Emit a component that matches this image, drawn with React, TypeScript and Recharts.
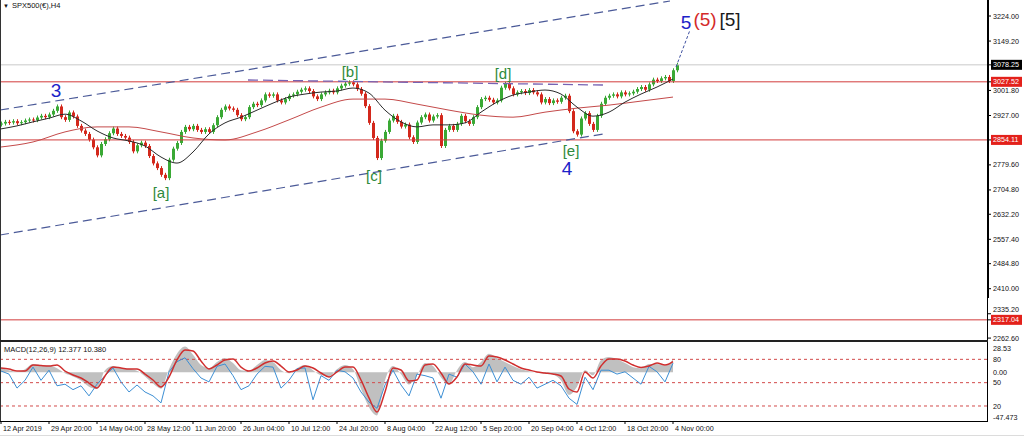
import React from 'react';
import {
  ComposedChart,
  Bar,
  Line,
  Area,
  XAxis,
  YAxis,
  ReferenceLine,
  ReferenceDot,
} from 'recharts';

// time axis: one label every 12 bars
const dateLabels = [
  '12 Apr 2019', '29 Apr 20:00', '14 May 04:00', '28 May 12:00', '11 Jun 20:00',
  '26 Jun 04:00', '10 Jul 12:00', '24 Jul 20:00', '8 Aug 04:00', '22 Aug 12:00',
  '5 Sep 20:00', '20 Sep 04:00', '4 Oct 12:00', '18 Oct 20:00', '4 Nov 00:00',
];
const barsPerLabel = 12;

// H4 closes (open of each bar = previous close)
const firstOpen = 2900;
const closes = [
  2903, 2908, 2906, 2910, 2904, 2907, 2912, 2915, 2913, 2921,
  2926, 2922, 2930, 2941, 2954, 2922, 2914, 2936, 2924, 2896,
  2882, 2872, 2855, 2832, 2808, 2842, 2856, 2874, 2888, 2872,
  2866, 2861, 2848, 2820, 2838, 2846, 2836, 2806, 2784, 2770,
  2750, 2740, 2795, 2828, 2845, 2878, 2893, 2886, 2896, 2884,
  2878, 2886, 2878, 2898, 2922, 2944, 2954, 2948, 2944, 2928,
  2916, 2922, 2952, 2962, 2958, 2972, 2990, 2986, 2990, 2972,
  2966, 2976, 2986, 2990, 2998, 3004, 3008, 3000, 2984, 2976,
  2990, 2996, 3001, 2996, 3008, 3016, 3022, 3026, 3020, 3006,
  2992, 2955, 2905, 2860, 2800, 2852, 2878, 2912, 2926, 2908,
  2894, 2900, 2862, 2848, 2906, 2922, 2930, 2912, 2924, 2928,
  2836, 2884, 2896, 2884, 2902, 2926, 2910, 2902, 2922, 2952,
  2976, 2980, 2974, 2966, 2972, 3010, 3022, 3008, 2990, 2996,
  3000, 2994, 3003, 2996, 2990, 2966, 2976, 2964, 2972, 2968,
  2980, 2986, 2940, 2880, 2870, 2918, 2934, 2902, 2884, 2926,
  2962, 2980, 2986, 2990, 2984, 2996, 2990, 2993, 2998, 3006,
  3012, 3004, 3020, 3034, 3030, 3038, 3042, 3030, 3062, 3078,
];

// black moving average, every 4 bars
const maFastStep = 4;
const maFast = [
  2887, 2896, 2908, 2919, 2931, 2911, 2881, 2860, 2851, 2836,
  2803, 2785, 2818, 2872, 2905, 2922, 2943, 2964, 2982, 2991,
  2997, 3000, 3009, 2994, 2943, 2908, 2893, 2899, 2899, 2905,
  2937, 2967, 2988, 2997, 3003, 2991, 2952, 2925, 2937, 2967,
  2991, 3012, 3036,
];

// red moving average, every 8 bars
const maSlowStep = 8;
const maSlow = [
  2833, 2848, 2878, 2893, 2893, 2878, 2860, 2854, 2878, 2914,
  2952, 2976, 2976, 2961, 2943, 2928, 2922, 2937, 2949, 2958,
  2970, 2982,
];

// lower window, every 2 bars
const subStep = 2;
const macdMain = [
  4.5, 2, 0.5, 3, 8, 7, 6.5, 4, -1, -4,
  -8, -14, -16, 2, 6, 4, 3.5, 1.5, -4, -11,
  -16, 3, 18, 25, 17, 7, 4, 10, 14, 9,
  2, 1.5, 7, 12, 10, 2, -1, 4, 7, 2,
  -3, -4, 3, 7, 3, -16, -34, -42, -8, 6,
  -2, -12, -3, 9, 6, -5, -12, 2, 10, 5,
  10, 18, 14, 10, 6, 3, 1, -0.5, -1.5, -2.5,
  -8, -22, -14, 2, -3, 12, 15, 13, 9, 5,
  4, 8, 8, 6.5, 12.4,
];
const macdSignal = [
  4.2, 3.2, 1.2, 1.2, 7.1, 6.5, 6.1, 7.1, 1.2, -2.6,
  -5.6, -10.5, -15.3, -3.6, 5.1, 4.2, 3.2, 3.2, -1.7, -7.5,
  -14.3, -4.6, 12, 21.7, 20.7, 11, 3.2, 7.1, 12, 12.9,
  5.1, 1.2, 4.2, 9, 11, 6.1, 0.3, 2.2, 6.1, 4.2,
  -0.7, -4.6, 0.3, 5.1, 5.1, -7.5, -25, -38.7, -19.2, 4.2,
  2.2, -8.5, -7.5, 7.1, 8.1, -0.7, -11.4, -4.6, 8.1, 7.1,
  6.1, 15.9, 14.9, 12, 8.1, 4.2, 2.2, 0.3, -0.7, -1.7,
  -3.6, -16.3, -19.2, 0.3, -5.6, 6.1, 12.9, 12.9, 11, 7.1,
  4.7, 6.1, 9, 7.1, 10.4,
];
const oscValues = [
  65, 61, 43, 53, 70, 53, 66, 46, 48, 41,
  46, 33, 48, 59, 69, 51, 38, 47, 38, 33,
  24, 64, 77, 82, 68, 56, 51, 71, 74, 59,
  41, 46, 61, 71, 70, 43, 53, 68, 69, 28,
  59, 53, 66, 64, 56, 38, 25, 17, 47, 66,
  47, 33, 61, 59, 56, 30, 61, 57, 74, 64,
  48, 74, 51, 70, 53, 48, 57, 43, 48, 53,
  46, 30, 22, 57, 41, 66, 66, 61, 64, 56,
  48, 71, 64, 51, 75,
];

// price scale
const priceTicks = [
  3224, 3149.2, 3078.25, 3027.52, 3001.8, 2927, 2854.11, 2779.6, 2704.8,
  2632.2, 2557.4, 2484.8, 2410, 2335.2, 2317.04, 2262.6,
];
const currentPrice = 3078.25;
const redLevels = [3027.52, 2854.11, 2317.04];
const macdTicks = [28.53, 0, -47.473];
const macdTickLabels = ['28.53', '0.00', '-47.473'];
const oscLevels = [80, 50, 20];

// drawn objects, in bar index / price
const trendLines = [
  { from: [-0.25, 2943.4], to: [167.25, 3268.8], color: '#4b5a98', dash: '9 5', w: 1.2 },
  { from: [-0.25, 2570.3], to: [150.5, 2871.8], color: '#4b5a98', dash: '9 5', w: 1.2 },
  { from: [61.75, 3033.0], to: [150.5, 3018.0], color: '#7763b3', dash: '10 5', w: 1.3 },
  { from: [168.75, 3071.8], to: [172.25, 3182.2], color: '#3d4fa0', dash: '3 2', w: 1 },
];
const waveLabels = [
  { text: '3', i: 13.75, price: 3003, color: '#1c22c8', size: 19 },
  { text: '[a]', i: 40, price: 2696, color: '#2f8a3b', size: 15 },
  { text: '[b]', i: 87.25, price: 3056.8, color: '#2f8a3b', size: 15 },
  { text: '[c]', i: 93.25, price: 2746.4, color: '#2f8a3b', size: 15 },
  { text: '[d]', i: 125.5, price: 3050.9, color: '#2f8a3b', size: 15 },
  { text: '[e]', i: 142.5, price: 2821, color: '#2f8a3b', size: 15 },
  { text: '4', i: 141.5, price: 2770.3, color: '#1c22c8', size: 19 },
  { text: '5', i: 171.25, price: 3206, color: '#1c22c8', size: 19 },
  { text: '(5)', i: 176, price: 3215, color: '#d42a2a', size: 19 },
  { text: '[5]', i: 182.25, price: 3215, color: '#1a1a1a', size: 19 },
];

const rows = closes.map((c, i) => {
  const o = i === 0 ? firstOpen : closes[i - 1];
  return {
    i,
    open: o,
    close: c,
    body: [Math.min(o, c), Math.max(o, c)],
    maFast: i % maFastStep === 0 ? maFast[i / maFastStep] : null,
    maSlow: i % maSlowStep === 0 ? maSlow[i / maSlowStep] : null,
    macd: i % subStep === 0 ? macdMain[i / subStep] : null,
    signal: i % subStep === 0 ? macdSignal[i / subStep] : null,
    osc: i % subStep === 0 ? oscValues[i / subStep] : null,
  };
});

const xDomain = [-0.25, 246.75];
const priceDomain = [2253.9, 3271.76];
const dateTicks = dateLabels.map((_, k) => k * barsPerLabel);
const FONT = '"Liberation Sans", Arial, sans-serif';

function Candle(props: any) {
  const { x, y, width, height, payload } = props;
  if (x == null || y == null) return null;
  const up = payload.close >= payload.open;
  const color = up ? '#3aa935' : '#d3281c';
  const cx = Math.round(x + width / 2) + 0.5;
  const h = Math.max(height || 0, 1);
  return (
    <g>
      <line x1={cx} x2={cx} y1={y - 2} y2={y + h + 2} stroke={color} strokeWidth={1} />
      <rect x={cx - 1.5} y={y} width={3} height={h} fill={color} />
    </g>
  );
}

function PriceTick(props: any) {
  const { x, y, payload } = props;
  const v = payload.value;
  const red = redLevels.includes(v);
  const cur = v === currentPrice;
  // the 2335.20 label sits just above the 2317.04 box
  const dy = v === 2335.2 ? -4 : 0;
  return (
    <g>
      <line x1={x} x2={x + 3} y1={y} y2={y} stroke="#000" />
      {(red || cur) && (
        <rect x={x + 3} y={y - 5} width={31} height={10} fill={cur ? '#000' : '#e3211b'} />
      )}
      <text x={x + 5} y={y + 2.5 + dy} fontSize={7.2} fontFamily={FONT} fill={red || cur ? '#fff' : '#111'}>
        {v.toFixed(2)}
      </text>
    </g>
  );
}

function MacdTick(props: any) {
  const { x, y, payload, index } = props;
  const dy = index === 0 ? 5 : index === macdTicks.length - 1 ? -4 : 0;
  return (
    <g>
      <text x={x + 5} y={y + dy + 2.5} fontSize={7.2} fontFamily={FONT} fill="#111">
        {macdTickLabels[macdTicks.indexOf(payload.value)]}
      </text>
    </g>
  );
}

function DateTick(props: any) {
  const { x, y, payload } = props;
  return (
    <g>
      <line x1={x} x2={x} y1={y} y2={y + 3} stroke="#000" />
      <text x={x + 2} y={y + 10} fontSize={7.2} fontFamily={FONT} fill="#111">
        {dateLabels[payload.value / barsPerLabel]}
      </text>
    </g>
  );
}

const line = (style: React.CSSProperties) => (
  <div style={{ position: 'absolute', ...style }} />
);

export default function App() {
  return (
    <div
      style={{
        position: 'absolute',
        left: 0,
        top: 0,
        width: 1024,
        height: 438,
        background: '#fff',
        overflow: 'hidden',
        fontFamily: FONT,
      }}
    >
      <div style={{ position: 'absolute', left: 0, top: 0, zIndex: 2 }}>
        <ComposedChart width={1024} height={350} data={rows} margin={{ top: 0, right: 0, bottom: 9, left: 0 }}>
          <XAxis type="number" dataKey="i" domain={xDomain} hide allowDataOverflow />
          <YAxis
            orientation="right"
            width={36}
            domain={priceDomain}
            allowDataOverflow
            ticks={priceTicks}
            interval={0}
            tick={<PriceTick />}
            tickSize={0}
            tickMargin={0}
            axisLine={false}
            tickLine={false}
          />
          <ReferenceLine y={currentPrice} stroke="#c9c9c9" strokeWidth={1} />
          {redLevels.map((v) => (
            <ReferenceLine key={v} y={v} stroke="#d23c3c" strokeWidth={1} />
          ))}
          {trendLines.map((t, k) => (
            <ReferenceLine
              key={k}
              segment={[
                { x: t.from[0], y: t.from[1] },
                { x: t.to[0], y: t.to[1] },
              ]}
              stroke={t.color}
              strokeDasharray={t.dash}
              strokeWidth={t.w}
              ifOverflow="visible"
            />
          ))}
          <Line type="monotone" dataKey="maSlow" stroke="#c44a4a" strokeWidth={1} dot={false} connectNulls isAnimationActive={false} />
          <Bar dataKey="body" barSize={3} shape={<Candle />} isAnimationActive={false} />
          <Line type="monotone" dataKey="maFast" stroke="#2a2a2a" strokeWidth={1} dot={false} connectNulls isAnimationActive={false} />
          {waveLabels.map((w) => (
            <ReferenceDot
              key={w.text}
              x={w.i}
              y={w.price}
              r={0}
              stroke="none"
              fill="none"
              ifOverflow="visible"
              label={{ value: w.text, position: 'center', fill: w.color, fontSize: w.size, fontFamily: FONT }}
            />
          ))}
        </ComposedChart>
      </div>

      <div style={{ position: 'absolute', left: 0, top: 343, zIndex: 1 }}>
        <ComposedChart width={1024} height={95} data={rows} margin={{ top: 0, right: 0, bottom: 0, left: 0 }}>
          <XAxis
            type="number"
            dataKey="i"
            domain={xDomain}
            allowDataOverflow
            ticks={dateTicks}
            interval={0}
            height={17}
            tick={<DateTick />}
            tickSize={0}
            tickMargin={0}
            axisLine={false}
            tickLine={false}
          />
          <YAxis
            yAxisId="macd"
            orientation="right"
            width={36}
            domain={[-47.473, 28.53]}
            allowDataOverflow
            ticks={macdTicks}
            interval={0}
            tick={<MacdTick />}
            tickSize={0}
            tickMargin={0}
            axisLine={false}
            tickLine={false}
          />
          <YAxis yAxisId="osc" hide domain={[0.7, 101]} allowDataOverflow />
          <Area
            yAxisId="macd"
            type="monotone"
            dataKey="macd"
            baseValue={0}
            stroke="none"
            fill="#c0c0c0"
            fillOpacity={1}
            connectNulls
            isAnimationActive={false}
          />
          {oscLevels.map((v) => (
            <ReferenceLine
              key={v}
              yAxisId="osc"
              y={v}
              stroke="#d24a4a"
              strokeDasharray="3 3"
              label={{ value: String(v), position: 'right', offset: 5, fill: '#111', fontSize: 7.2, fontFamily: FONT }}
            />
          ))}
          <Line yAxisId="osc" type="linear" dataKey="osc" stroke="#3d8fd4" strokeWidth={1} dot={false} connectNulls isAnimationActive={false} />
          <Line yAxisId="macd" type="monotone" dataKey="signal" stroke="#d02e2e" strokeWidth={1.5} dot={false} connectNulls isAnimationActive={false} />
        </ComposedChart>
      </div>

      {/* window frames */}
      {line({ left: 0, top: 0, width: 1, height: 421, background: '#333', zIndex: 3 })}
      {line({ left: 987, top: 0, width: 2, height: 298, background: '#000', zIndex: 3 })}
      {line({ left: 987, top: 298, width: 1, height: 123, background: '#000', zIndex: 3 })}
      {line({ left: 0, top: 340, width: 988, height: 2, background: '#222', zIndex: 3 })}
      {line({ left: 0, top: 421, width: 988, height: 1, background: '#000', zIndex: 3 })}
      {line({ left: 0, top: 435, width: 1024, height: 1, background: '#dcdcdc', zIndex: 3 })}

      <div style={{ position: 'absolute', left: 3, top: 0, fontSize: 7.5, color: '#111', lineHeight: '11px', zIndex: 3 }}>
        <span style={{ fontSize: 6, marginRight: 3 }}>▼</span>SPX500(€),H4
      </div>
      <div style={{ position: 'absolute', left: 4, top: 344, fontSize: 7.5, color: '#111', lineHeight: '11px', zIndex: 3 }}>
        MACD(12,26,9) 12.377 10.380
      </div>
    </div>
  );
}
